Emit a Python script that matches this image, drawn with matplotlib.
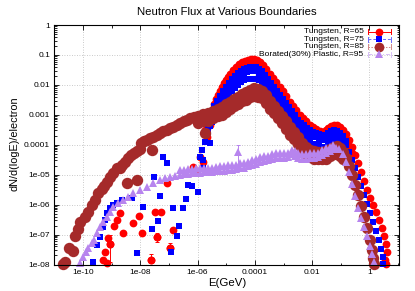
import numpy as np
import matplotlib
matplotlib.use("Agg")
import matplotlib.pyplot as plt
from matplotlib.ticker import FixedLocator, LogLocator, NullFormatter, FuncFormatter
from matplotlib.lines import Line2D

plt.rcParams['font.family'] = ['Liberation Sans', 'DejaVu Sans']

# ---------------- data (log10 E [GeV], log10 dN/d(logE)/electron) ----------------
# Tungsten R=65 : sparse low-energy points
r65_sparse_logE = [-9.30, -9.23, -9.16, -9.13, -9.06, -8.92, -8.81, -8.71, -8.60, -8.25, -8.04, -7.94,
                   -7.62, -7.48, -7.41, -7.28, -7.07, -6.96, -6.86, -6.16, -6.05, -5.91, -5.81, -5.74,
                   -5.67, -5.57]
r65_sparse_logF = [-7.85, -7.58, -7.95, -7.11, -7.31, -6.71, -6.51, -6.28, -6.94, -6.61, -6.38, -6.94,
                   -7.85, -6.24, -7.08, -6.24, -5.28, -7.45, -6.84, -4.74, -4.91, -4.41, -4.57, -3.51,
                   -3.74, -3.34]
# Tungsten R=65 : dense part (upper and lower edge of the point band)
r65_logE = [-5.50, -5.43, -5.36, -5.29, -5.22, -5.15, -5.08, -5.01, -4.94, -4.87, -4.76, -4.66, -4.55,
            -4.45, -4.34, -4.24, -4.13, -4.03, -3.92, -3.82, -3.72, -3.61, -3.47, -3.37, -3.26, -3.12,
            -3.02, -2.91, -2.77, -2.67, -2.56, -2.42, -2.32, -2.21, -2.07, -1.97, -1.87, -1.73, -1.66,
            -1.59, -1.52, -1.45, -1.34, -1.24, -1.13, -1.03, -0.92, -0.82, -0.71, -0.61, -0.50, -0.40,
            -0.29, -0.19, -0.09, 0.02, 0.12, 0.23, 0.33, 0.44, 0.51, 0.58, 0.61, 0.54, 0.58]
r65_logF_hi = [-2.90, -2.64, -2.47, -2.34, -2.20, -2.07, -1.94, -1.84, -1.74, -1.64, -1.50, -1.40, -1.30,
               -1.24, -1.20, -1.17, -1.135, -1.135, -1.17, -1.24, -1.34, -1.47, -1.64, -1.77, -1.90, -2.07,
               -2.20, -2.37, -2.57, -2.70, -2.84, -3.00, -3.11, -3.21, -3.34, -3.41, -3.47, -3.54, -3.57,
               -3.57, -3.51, -3.44, -3.37, -3.34, -3.34, -3.41, -3.51, -3.64, -3.84, -4.07, -4.34, -4.61,
               -4.91, -5.21, -5.51, -5.78, -6.01, -6.24, -6.51, -6.78, -7.05, -7.31, -7.58, -7.85, -7.98]
r65_logF_lo = [-3.10, -2.84, -2.67, -2.54, -2.40, -2.27, -2.14, -2.04, -1.94, -1.84, -1.70, -1.60, -1.50,
               -1.44, -1.40, -1.37, -1.34, -1.34, -1.37, -1.44, -1.54, -1.67, -1.84, -1.97, -2.10, -2.27,
               -2.40, -2.57, -2.77, -2.90, -3.04, -3.20, -3.31, -3.41, -3.54, -3.61, -3.67, -3.74, -3.77,
               -3.77, -3.71, -3.64, -3.57, -3.54, -3.54, -3.61, -3.71, -3.84, -4.04, -4.27]
# Tungsten R=65 : points with visible error bars (value, low, high)
r65_err_logE = [-9.06, -7.41, -6.96, -7.62]
r65_err_logF = [-7.31, -7.08, -7.45, -7.85]
r65_err_lo = [-7.91, -7.25, -7.65, -7.85]
r65_err_hi = [-7.01, -6.94, -7.28, -7.65]

# Tungsten R=75
r75_sparse_logE = [-9.65, -9.51, -9.40, -9.30, -9.23, -9.16, -9.06, -8.95, -8.81, -8.64, -8.29, -8.11,
                   -7.90, -7.59, -7.52, -7.38, -7.31, -7.21, -7.07, -6.93, -6.86, -6.72, -6.65, -6.51,
                   -6.40, -6.33, -6.19, -5.98, -5.81, -5.81, -5.71, -5.57]
r75_sparse_logF = [-7.91, -7.35, -7.08, -6.74, -6.51, -6.28, -6.11, -6.01, -5.94, -5.84, -5.78, -7.61,
                   -6.08, -6.81, -5.08, -6.54, -5.71, -4.41, -4.61, -7.58, -6.11, -7.05, -6.71, -6.11,
                   -5.81, -5.34, -5.38, -5.58, -4.77, -4.51, -3.61, -3.94]
r75_logE = [-5.91, -5.84, -5.74, -5.67, -5.63, -5.57, -5.50, -5.43, -5.32, -5.22, -5.11, -5.01, -4.90,
            -4.80, -4.70, -4.59, -4.48, -4.38, -4.27, -4.17, -4.06, -3.96, -3.86, -3.75, -3.64, -3.54,
            -3.44, -3.33, -3.23, -3.12, -3.02, -2.91, -2.81, -2.70, -2.60, -2.49, -2.39, -2.28, -2.18,
            -2.07, -1.97, -1.87, -1.76, -1.66, -1.55, -1.45, -1.34, -1.24, -1.13, -1.03, -0.92, -0.82,
            -0.71, -0.61, -0.50, -0.40, -0.29, -0.19, -0.09, 0.02, 0.12, 0.23, 0.33, 0.40, 0.47, 0.47]
r75_logF = [-4.41, -4.17, -3.91, -3.57, -3.34, -3.14, -3.00, -2.84, -2.67, -2.50, -2.34, -2.20, -2.07,
            -1.94, -1.84, -1.74, -1.67, -1.60, -1.57, -1.54, -1.54, -1.54, -1.60, -1.67, -1.80, -1.94,
            -2.07, -2.20, -2.34, -2.47, -2.60, -2.74, -2.87, -3.00, -3.14, -3.31, -3.41, -3.47, -3.57,
            -3.64, -3.71, -3.74, -3.77, -3.84, -3.81, -3.74, -3.67, -3.64, -3.67, -3.74, -3.84, -4.01,
            -4.24, -4.51, -4.77, -5.08, -5.38, -5.68, -5.98, -6.28, -6.58, -6.88, -7.18, -7.48, -7.75, -7.98]
r75_logF_hi = [-3.21, -3.01, -2.87, -2.71, -2.54, -2.37, -2.21, -2.07, -1.94, -1.81, -1.71, -1.61, -1.54,
               -1.47, -1.44, -1.41, -1.41, -1.41, -1.47, -1.54, -1.67, -1.81, -1.94, -2.07, -2.21, -2.34,
               -2.47, -2.61, -2.74, -2.87, -3.01, -3.18, -3.28, -3.34, -3.44, -3.51, -3.58, -3.61, -3.64,
               -3.71, -3.68, -3.61, -3.54, -3.51, -3.54, -3.61, -3.71, -3.88]
r75_logF_lo = [-3.59, -3.39, -3.25, -3.09, -2.92, -2.75, -2.59, -2.45, -2.32, -2.19, -2.09, -1.99, -1.92,
               -1.85, -1.82, -1.79, -1.79, -1.79, -1.85, -1.92, -2.05, -2.19, -2.32, -2.45, -2.59, -2.72,
               -2.85, -2.99, -3.12, -3.25, -3.39, -3.56, -3.66, -3.72, -3.82, -3.89, -3.96, -3.99, -4.02,
               -4.09, -4.06, -3.99, -3.92, -3.89, -3.92, -3.99, -4.09, -4.26]

# Tungsten R=85
r85_logE = [-10.70, -10.63, -10.49, -10.35, -10.28, -10.17, -10.10, -9.93, -9.82, -9.68, -9.58, -9.47,
            -9.33, -9.27, -9.16, -9.06, -8.95, -8.81, -8.71, -8.64, -8.53, -8.43, -8.32, -8.22, -8.11,
            -8.01, -7.97, -7.87, -7.76, -7.66, -7.55, -7.41, -7.31, -7.21, -7.07, -6.96, -6.86, -6.72,
            -6.62, -6.47, -6.37, -6.26, -6.12, -5.98, -5.81, -5.63, -5.46, -5.29, -5.15, -5.01, -4.87,
            -4.73, -4.59, -4.45, -4.31, -4.17, -4.03, -3.89, -3.75, -3.61, -3.47, -3.33, -3.19, -3.05,
            -2.91, -2.77, -2.63, -2.49, -2.35, -2.21, -2.07, -1.94, -1.80, -1.66, -1.52, -1.38, -1.24,
            -1.13, -1.03, -0.92, -0.82, -0.71, -0.61, -0.50, -0.40, -0.29, -0.19, -0.09, 0.02, 0.09,
            0.12, 0.16]
r85_logF = [-7.98, -7.91, -7.45, -7.55, -7.05, -6.81, -6.58, -6.41, -6.24, -6.01, -5.84, -5.61, -5.48,
            -5.38, -5.24, -5.08, -4.94, -4.77, -4.77, -4.67, -4.57, -4.44, -4.34, -4.27, -4.21, -4.14,
            -3.94, -3.87, -3.84, -3.77, -3.74, -3.67, -3.61, -3.54, -3.51, -3.44, -3.41, -3.34, -3.27,
            -3.21, -3.17, -3.11, -3.07, -3.04, -2.97, -2.94, -2.87, -2.80, -2.74, -2.64, -2.57, -2.47,
            -2.40, -2.30, -2.24, -2.17, -2.12, -2.14, -2.20, -2.34, -2.54, -2.70, -2.87, -3.04, -3.21,
            -3.41, -3.57, -3.74, -3.94, -4.07, -4.17, -4.21, -4.24, -4.24, -4.21, -4.14, -4.07, -4.04,
            -4.11, -4.24, -4.44, -4.71, -5.01, -5.34, -5.68, -6.04, -6.41, -6.78, -7.18, -7.51, -7.78,
            -7.98]
r85_logF_lo = [-3.29, -3.22, -3.19, -3.12, -3.05, -2.99, -2.89, -2.82, -2.72, -2.65, -2.55, -2.49, -2.42,
               -2.37, -2.39, -2.45, -2.59, -2.79, -2.95, -3.12, -3.29, -3.46, -3.66, -3.82, -3.99, -4.19,
               -4.32, -4.42, -4.46, -4.49, -4.49, -4.46, -4.39, -4.32, -4.29, -4.36, -4.49]
r85_extra_logE = [-8.46, -8.11, -7.59, -5.74]
r85_extra_logF = [-5.28, -5.18, -4.17, -3.61]

# Borated(30%) Plastic R=95
b95_logE = [-10.10, -10.00, -9.89, -9.82, -9.68, -9.61, -9.51, -9.40, -9.30, -9.16, -9.06, -8.95, -8.78,
            -8.60, -8.43, -8.25, -8.01, -7.76, -7.55, -7.31, -7.14, -6.96, -6.79, -6.62, -6.47, -6.33,
            -6.19, -6.05, -5.91, -5.77, -5.63, -5.50, -5.36, -5.22, -5.08, -4.94, -4.80, -4.66, -4.52,
            -4.38, -4.24, -4.10, -3.96, -3.82, -3.68, -3.54, -3.40, -3.26, -3.12, -2.98, -2.84, -2.70,
            -2.60, -2.49, -2.35, -2.21, -2.07, -1.94, -1.80, -1.66, -1.52, -1.38, -1.27, -1.17, -1.06,
            -0.92, -0.82, -0.71, -0.61, -0.50, -0.40, -0.29, -0.19, -0.09, 0.02, 0.09, 0.16]
b95_logF = [-7.95, -7.75, -7.58, -7.45, -7.28, -7.18, -6.94, -6.74, -6.58, -6.41, -6.24, -6.08, -5.94,
            -5.84, -5.74, -5.61, -5.51, -5.41, -5.28, -5.18, -5.11, -5.08, -5.04, -5.01, -4.99, -4.97,
            -4.96, -4.94, -4.94, -4.92, -4.91, -4.91, -4.89, -4.87, -4.87, -4.84, -4.84, -4.81, -4.77,
            -4.77, -4.71, -4.67, -4.64, -4.57, -4.54, -4.51, -4.47, -4.44, -4.44, -4.44, -4.41, -4.31,
            -4.37, -4.44, -4.47, -4.47, -4.44, -4.44, -4.41, -4.34, -4.27, -4.20, -4.15, -4.11, -4.14,
            -4.30, -4.57, -4.91, -5.31, -5.71, -6.11, -6.44, -6.74, -7.05, -7.38, -7.65, -7.91]
b95_logF_hi = [-4.86, -4.84, -4.82, -4.81, -4.79, -4.79, -4.77, -4.76, -4.76, -4.74, -4.72, -4.72, -4.69,
               -4.69, -4.66, -4.62, -4.62, -4.56, -4.52, -4.49, -4.42, -4.39, -4.36, -4.32, -4.29, -4.29,
               -4.29, -4.26, -4.16, -4.22, -4.29, -4.32, -4.32, -4.29, -4.29, -4.26, -4.19, -4.12, -4.06,
               -4.02]
b95_err_logE = [-4.59]
b95_err_logF = [-4.24]
b95_err_lo = [-4.77]
b95_err_hi = [-4.01]

labels = ["Tungsten, R=65", "Tungsten, R=75", "Tungsten, R=85", "Borated(30%) Plastic, R=95"]
colors = ["#FF0000", "#0000FF", "#A52A2A", "#B784EE"]
markers = ["o", "s", "o", "^"]
msizes = [5.6, 5.0, 8.2, 5.6]

xticks = [1e-10, 1e-8, 1e-6, 1e-4, 1e-2, 1]
xminor = [1e-11, 1e-9, 1e-7, 1e-5, 1e-3, 1e-1, 10]
yticks = [1e-8, 1e-7, 1e-6, 1e-5, 1e-4, 1e-3, 1e-2, 1e-1, 1]


def pw(a):
    return np.power(10.0, np.asarray(a, dtype=float))


fig = plt.figure(figsize=(4.15, 2.91), dpi=100)
ax = fig.add_axes([54.3 / 415, 26.5 / 291, 345 / 415, 239.5 / 291])
ax.set_xscale('log')
ax.set_yscale('log')
ax.set_xlim(1e-11, 11)
ax.set_ylim(1e-8, 1)


def pts(x, y, i, z):
    ax.plot(pw(x), pw(y), linestyle='none', marker=markers[i], ms=msizes[i], color=colors[i],
            markeredgewidth=0, clip_on=False, zorder=z)


def errs(x, y, lo, hi, i, z):
    yy = pw(y)
    ax.errorbar(pw(x), yy, yerr=[yy - pw(lo), pw(hi) - yy], fmt='none', ecolor=colors[i],
                elinewidth=0.7, capsize=1.5, capthick=0.7, clip_on=False, zorder=z)


# R=65
errs(r65_err_logE, r65_err_logF, r65_err_lo, r65_err_hi, 0, 3)
pts(r65_sparse_logE, r65_sparse_logF, 0, 3)
pts(r65_err_logE, r65_err_logF, 0, 3)
pts(r65_logE[:len(r65_logF_lo)], r65_logF_lo, 0, 3)
pts(r65_logE, r65_logF_hi, 0, 3)
# R=75
pts(r75_sparse_logE, r75_sparse_logF, 1, 4)
pts(r75_logE, r75_logF, 1, 4)
pts(r75_logE[4:4 + len(r75_logF_lo)], r75_logF_lo, 1, 4)
pts(r75_logE[4:4 + len(r75_logF_hi)], r75_logF_hi, 1, 4)
# R=85
pts(r85_extra_logE, r85_extra_logF, 2, 5)
pts(r85_logE, r85_logF, 2, 5)
pts(r85_logE[43:43 + len(r85_logF_lo)], r85_logF_lo, 2, 5)
# R=95
errs(b95_err_logE, b95_err_logF, b95_err_lo, b95_err_hi, 3, 6)
pts(b95_err_logE, b95_err_logF, 3, 6)
pts(b95_logE, b95_logF, 3, 6)
pts(b95_logE[23:23 + len(b95_logF_hi)], b95_logF_hi, 3, 6)

# axes styling
ax.xaxis.set_major_locator(FixedLocator(xticks))
ax.xaxis.set_minor_locator(FixedLocator(xminor))
ax.xaxis.set_minor_formatter(NullFormatter())
ax.yaxis.set_major_locator(FixedLocator(yticks))
ax.yaxis.set_minor_locator(LogLocator(base=10, subs=np.arange(2, 10), numticks=50))
ax.yaxis.set_minor_formatter(NullFormatter())
fmt = FuncFormatter(lambda v, p: '%g' % v)
ax.xaxis.set_major_formatter(fmt)
ax.yaxis.set_major_formatter(fmt)
ax.tick_params(which='both', direction='in', top=True, right=True, width=0.6, labelsize=6,
               colors='black', pad=3)
ax.tick_params(which='major', length=3.5)
ax.tick_params(which='minor', length=1.8)
ax.grid(True, which='major', color='#b8b8b8', linestyle=(0, (1, 2)), linewidth=0.6, zorder=0)
ax.set_axisbelow(True)
for s in ax.spines.values():
    s.set_linewidth(0.8)
    s.set_zorder(10)

# legend drawn like gnuplot's key
row_y = [0.972, 0.940, 0.909, 0.878]
lstyles = ['-', (0, (3, 2)), (0, (1.5, 1.5)), (0, (4, 2, 1, 2))]
lcols = ["#FF0000", "#6A6AFF", "#D08888", "#D8C0F8"]
leg_ms = [5.6, 5.0, 7.0, 5.4]
for i in range(4):
    yy = row_y[i]
    ax.text(0.896, yy, labels[i], transform=ax.transAxes, ha='right', va='center', fontsize=6, zorder=11)
    ax.add_line(Line2D([0.909, 0.975], [yy, yy], transform=ax.transAxes, color=lcols[i],
                       linestyle=lstyles[i], linewidth=0.7, zorder=11))
    for xe in (0.909, 0.975):
        ax.add_line(Line2D([xe, xe], [yy - 0.011, yy + 0.011], transform=ax.transAxes,
                           color=lcols[i], linewidth=0.7, zorder=11))
    ax.add_line(Line2D([0.942], [yy], transform=ax.transAxes, marker=markers[i], ms=leg_ms[i],
                       color=colors[i], markeredgewidth=0, linestyle='none', zorder=12))

fig.text(227 / 415, 1 - 12 / 291, "Neutron Flux at Various Boundaries", ha='center', va='center', fontsize=8.2)
fig.text(14.5 / 415, 1 - 144 / 291, "dN/d(logE)/electron", ha='center', va='center', rotation=90, fontsize=7.8)
fig.text(227 / 415, 1 - 283 / 291, "E(GeV)", ha='center', va='center', fontsize=8.2)

fig.savefig("out.png", dpi=100)
